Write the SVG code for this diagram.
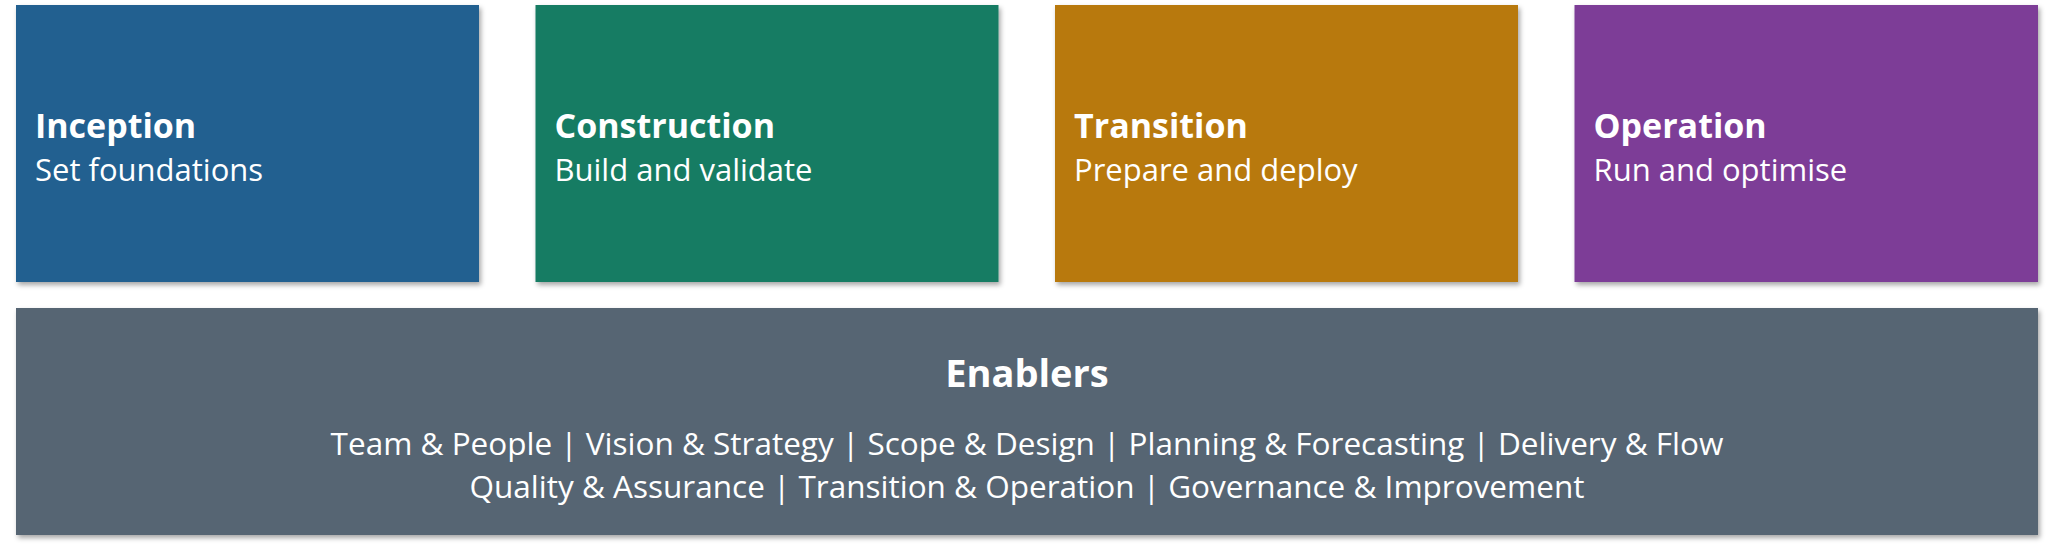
<svg xmlns="http://www.w3.org/2000/svg" width="2047" height="550" viewBox="0 0 2047 550">
  <defs>
    <filter id="shadow" x="-5%" y="-5%" width="110%" height="115%">
      <feDropShadow dx="2" dy="3" stdDeviation="2.5" flood-color="#000000" flood-opacity="0.35"/>
    </filter>
  </defs>
  <style>
    .box { filter: url(#shadow); }
    .title { font-family: "Open Sans", "Noto Sans", sans-serif; font-weight: 700; font-size: 34px; fill: #ffffff; }
    .etitle { font-family: "Open Sans", "Noto Sans", sans-serif; font-weight: 700; font-size: 38px; fill: #ffffff; }
    .sub { font-family: "Open Sans", "Noto Sans", sans-serif; font-weight: 400; font-size: 31px; fill: #ffffff; }
    .enab { font-family: "Open Sans", "Noto Sans", sans-serif; font-weight: 400; font-size: 31.5px; fill: #ffffff; }
  </style>
  <rect width="2047" height="550" fill="#ffffff"/>
  <g id="inception">
    <rect class="box" x="16" y="5" width="463" height="277" fill="#236190"/>
    <text class="title" x="35" y="138">Inception</text>
    <text class="sub" x="35" y="181">Set foundations</text>
  </g>
  <g id="construction">
    <rect class="box" x="535.5" y="5" width="463" height="277" fill="#127B63"/>
    <text class="title" x="554.5" y="138">Construction</text>
    <text class="sub" x="554.5" y="181">Build and validate</text>
  </g>
  <g id="transition">
    <rect class="box" x="1055" y="5" width="463" height="277" fill="#B8790F"/>
    <text class="title" x="1074" y="138">Transition</text>
    <text class="sub" x="1074" y="181">Prepare and deploy</text>
  </g>
  <g id="operation">
    <rect class="box" x="1574.5" y="5" width="463.5" height="277" fill="#7D3D97"/>
    <text class="title" x="1593.5" y="138">Operation</text>
    <text class="sub" x="1593.5" y="181">Run and optimise</text>
  </g>
  <g id="enablers">
    <rect class="box" x="16" y="308" width="2022" height="227" fill="#576573"/>
    <text class="etitle" x="1027" y="387" text-anchor="middle">Enablers</text>
    <text class="enab" x="1027" y="455" text-anchor="middle">Team &amp; People | Vision &amp; Strategy | Scope &amp; Design | Planning &amp; Forecasting | Delivery &amp; Flow</text>
    <text class="enab" x="1027" y="498" text-anchor="middle">Quality &amp; Assurance | Transition &amp; Operation | Governance &amp; Improvement</text>
  </g>
  <g id="connectors"/>
</svg>
